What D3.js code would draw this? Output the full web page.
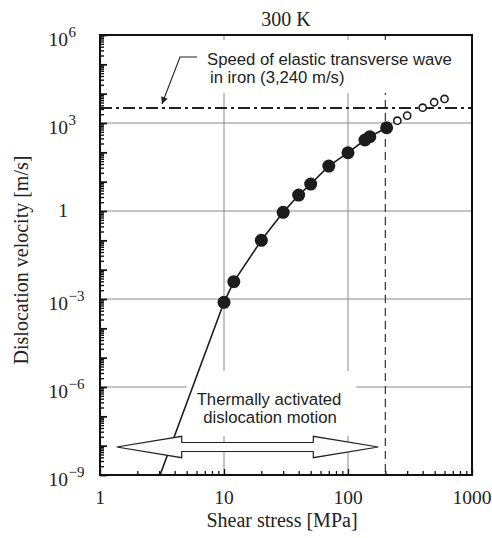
<!DOCTYPE html>
<html>
<head>
<meta charset="utf-8">
<script src="https://cdn.jsdelivr.net/npm/d3@7"></script>
<style>
  body { margin: 0; background: #fff; }
</style>
</head>
<body>
<div id="chart"></div>
<script>
// DATA
const stressFilled   = [10, 12, 20, 30, 40, 50, 70, 100, 137, 150, 205];          // MPa
const velocityFilled = [7.7e-4, 3.9e-3, 0.10, 0.9, 3.5, 8.3, 34, 97, 263, 340, 690]; // m/s
const stressOpen     = [250, 300, 400, 495, 600];
const velocityOpen   = [1200, 1780, 3320, 5100, 6600];
// lower end of the drawn curve (where it leaves the plot)
const curveStart     = [3.05, 1e-9];

const transverseSpeed = 3240;   // m/s
const athermalStress  = 200;    // MPa, dashed line
const xGrid = [10, 100];
const yGrid = [1e3, 1, 1e-3, 1e-6];
const xTickLabels = [1, 10, 100, 1000];
const yTickExponents = [6, 3, 0, -3, -6, -9];

// annotation anchors (data units)
const arrowFrom = 1.364, arrowTo = 175.5, arrowV = 9e-9;
const leaderTip = 3.16;

const width = 492, height = 538;
const margin = {top: 35, right: 20, bottom: 63, left: 100};
const serif = "'Liberation Serif', 'Times New Roman', serif";
const sans = "'Liberation Sans', Arial, sans-serif";
const ink = "#1c1c1c";

// SCALES
const x = d3.scaleLog().domain([1, 1000]).range([margin.left, width - margin.right]);
const y = d3.scaleLog().domain([1e-9, 1e6]).range([height - margin.bottom, margin.top]);
const x0 = x.range()[0], x1 = x.range()[1], y0 = y.range()[0], y1 = y.range()[1];

const svg = d3.select("#chart").append("svg")
    .attr("width", width)
    .attr("height", height);

// GRID
svg.append("g").selectAll("line").data(yGrid).join("line")
    .attr("x1", x0).attr("x2", x1)
    .attr("y1", d => y(d)).attr("y2", d => y(d))
    .attr("stroke", "#8a8a8a").attr("stroke-width", 1);
svg.append("g").selectAll("line").data(xGrid).join("line")
    .attr("x1", d => x(d)).attr("x2", d => x(d))
    .attr("y1", y0).attr("y2", y1)
    .attr("stroke", "#8a8a8a").attr("stroke-width", 1);

// dashed vertical at 200 MPa
svg.append("line")
    .attr("x1", x(athermalStress)).attr("x2", x(athermalStress))
    .attr("y1", y1).attr("y2", y0)
    .attr("stroke", "#333").attr("stroke-width", 1.2)
    .attr("stroke-dasharray", "8,5");

// dash-dot line for transverse wave speed
svg.append("line")
    .attr("x1", x0).attr("x2", x1)
    .attr("y1", y(transverseSpeed)).attr("y2", y(transverseSpeed))
    .attr("stroke", "#222").attr("stroke-width", 1.8)
    .attr("stroke-dasharray", "12,4,3,4");

// TEXT BOXES (white background masks the grid)
const boxLayer = svg.append("g");

const speedText = svg.append("text")
    .attr("font-family", sans).attr("font-size", 16.7).attr("fill", "#222");
speedText.append("tspan").attr("x", 207).attr("y", 65).text("Speed of elastic transverse wave");
speedText.append("tspan").attr("x", 210).attr("y", 83).text("in iron (3,240 m/s)");

const thermText = svg.append("text")
    .attr("font-family", sans).attr("font-size", 16.7).attr("fill", "#222")
    .attr("text-anchor", "middle");
thermText.append("tspan").attr("x", 269).attr("y", 405).text("Thermally activated");
thermText.append("tspan").attr("x", 270).attr("y", 423).text("dislocation motion");

function maskBehind(sel, padL, padR, padT, padB) {
    const b = sel.node().getBBox();
    boxLayer.append("rect")
        .attr("x", b.x - padL).attr("y", b.y - padT)
        .attr("width", b.width + padL + padR)
        .attr("height", b.height + padT + padB)
        .attr("fill", "#fff");
}
maskBehind(speedText, 9, 14, 10, 6);
maskBehind(thermText, 10, 15, 19, 9);

// leader arrow to dash-dot line
const defs = svg.append("defs");
defs.append("marker")
    .attr("id", "head").attr("viewBox", "0 0 10 10")
    .attr("refX", 10).attr("refY", 5)
    .attr("markerWidth", 9).attr("markerHeight", 7)
    .attr("markerUnits", "userSpaceOnUse")
    .attr("orient", "auto")
    .append("path").attr("d", "M0,0 L10,5 L0,10 Z").attr("fill", "#222");

svg.append("path")
    .attr("d", `M197,57 L180,57 L${x(leaderTip)},${y(transverseSpeed) - 4}`)
    .attr("fill", "none").attr("stroke", "#222").attr("stroke-width", 1.1)
    .attr("marker-end", "url(#head)");

// CURVE
const line = d3.line().x(d => x(d[0])).y(d => y(d[1]));
const curve = [curveStart].concat(stressFilled.map((s, i) => [s, velocityFilled[i]]));
svg.append("path")
    .attr("d", line(curve))
    .attr("fill", "none").attr("stroke", ink).attr("stroke-width", 1.6);

// double arrow
const ax1 = x(arrowFrom), ax2 = x(arrowTo), ay = y(arrowV);
const hl = 65, hh = 10.7, sh = 4.5;
svg.append("path")
    .attr("d", `M${ax1},${ay} L${ax1 + hl},${ay - hh} L${ax1 + hl},${ay - sh} L${ax2 - hl},${ay - sh}` +
               ` L${ax2 - hl},${ay - hh} L${ax2},${ay} L${ax2 - hl},${ay + hh} L${ax2 - hl},${ay + sh}` +
               ` L${ax1 + hl},${ay + sh} L${ax1 + hl},${ay + hh} Z`)
    .attr("fill", "#fcfcfc").attr("stroke", "#222").attr("stroke-width", 1.2)
    .attr("stroke-linejoin", "miter");

// POINTS
svg.append("g").selectAll("circle").data(stressFilled).join("circle")
    .attr("cx", d => x(d))
    .attr("cy", (d, i) => y(velocityFilled[i]))
    .attr("r", 6.5)
    .attr("fill", ink);

svg.append("g").selectAll("circle").data(stressOpen).join("circle")
    .attr("cx", d => x(d))
    .attr("cy", (d, i) => y(velocityOpen[i]))
    .attr("r", 3.6)
    .attr("fill", "#fff").attr("stroke", ink).attr("stroke-width", 1.6);

// AXES (inward ticks)
const yMinor = [], yMajor = [];
for (let e = -9; e < 6; e++) {
    yMajor.push(Math.pow(10, e));
    for (let m = 2; m <= 9; m++) yMinor.push(m * Math.pow(10, e));
}
yMajor.push(1e6);
const xMinor = [], xMajor = [1, 10, 100, 1000];
for (let e = 0; e < 3; e++) for (let m = 2; m <= 9; m++) xMinor.push(m * Math.pow(10, e));

function tickAxis(axis, tr, sw) {
    const g = svg.append("g").attr("transform", tr).call(axis);
    g.select(".domain").remove();
    g.selectAll("line").attr("stroke", "#111").attr("stroke-width", sw);
    g.selectAll("text").remove();
}
tickAxis(d3.axisLeft(y).tickValues(yMinor).tickSize(-4), `translate(${x0},0)`, 1.4);
tickAxis(d3.axisLeft(y).tickValues(yMajor).tickSize(-7), `translate(${x0},0)`, 1.8);
tickAxis(d3.axisBottom(x).tickValues(xMinor).tickSize(-4), `translate(0,${y0})`, 1.3);
tickAxis(d3.axisBottom(x).tickValues(xMajor).tickSize(-6), `translate(0,${y0})`, 1.3);

// frame
svg.append("rect")
    .attr("x", x0).attr("y", y1)
    .attr("width", x1 - x0).attr("height", y0 - y1)
    .attr("fill", "none").attr("stroke", "#111").attr("stroke-width", 2);

// TICK LABELS
svg.append("g").selectAll("text").data(xTickLabels).join("text")
    .attr("x", d => x(d)).attr("y", y0 + 29)
    .attr("text-anchor", "middle")
    .attr("font-family", serif).attr("font-size", 19.5).attr("fill", "#222")
    .text(d => d);

const yl = svg.append("g").attr("font-family", serif).attr("fill", "#222");
yTickExponents.forEach(e => {
    const ty = y(Math.pow(10, e));
    if (e === 0) {
        yl.append("text").attr("x", 68).attr("y", ty + 6)
            .attr("text-anchor", "end").attr("font-size", 19.5).text("1");
        return;
    }
    yl.append("text").attr("x", 68).attr("y", ty + 10.5)
        .attr("text-anchor", "end").attr("font-size", 19.5).text("10");
    yl.append("text").attr("x", 68.5).attr("y", ty + 1.5)
        .attr("font-size", 15).text(e < 0 ? "\u2212" + (-e) : String(e));
});

// TITLES
svg.append("text")
    .attr("x", (x0 + x1) / 2).attr("y", 26)
    .attr("text-anchor", "middle")
    .attr("font-family", serif).attr("font-size", 20).attr("fill", "#222")
    .text("300 K");

svg.append("text")
    .attr("x", 282).attr("y", 527)
    .attr("text-anchor", "middle")
    .attr("font-family", serif).attr("font-size", 20).attr("fill", "#222")
    .text("Shear stress [MPa]");

svg.append("text")
    .attr("transform", `translate(28,260) rotate(-90)`)
    .attr("text-anchor", "middle")
    .attr("font-family", serif).attr("font-size", 20).attr("fill", "#222")
    .text("Dislocation velocity [m/s]");
</script>
</body>
</html>
